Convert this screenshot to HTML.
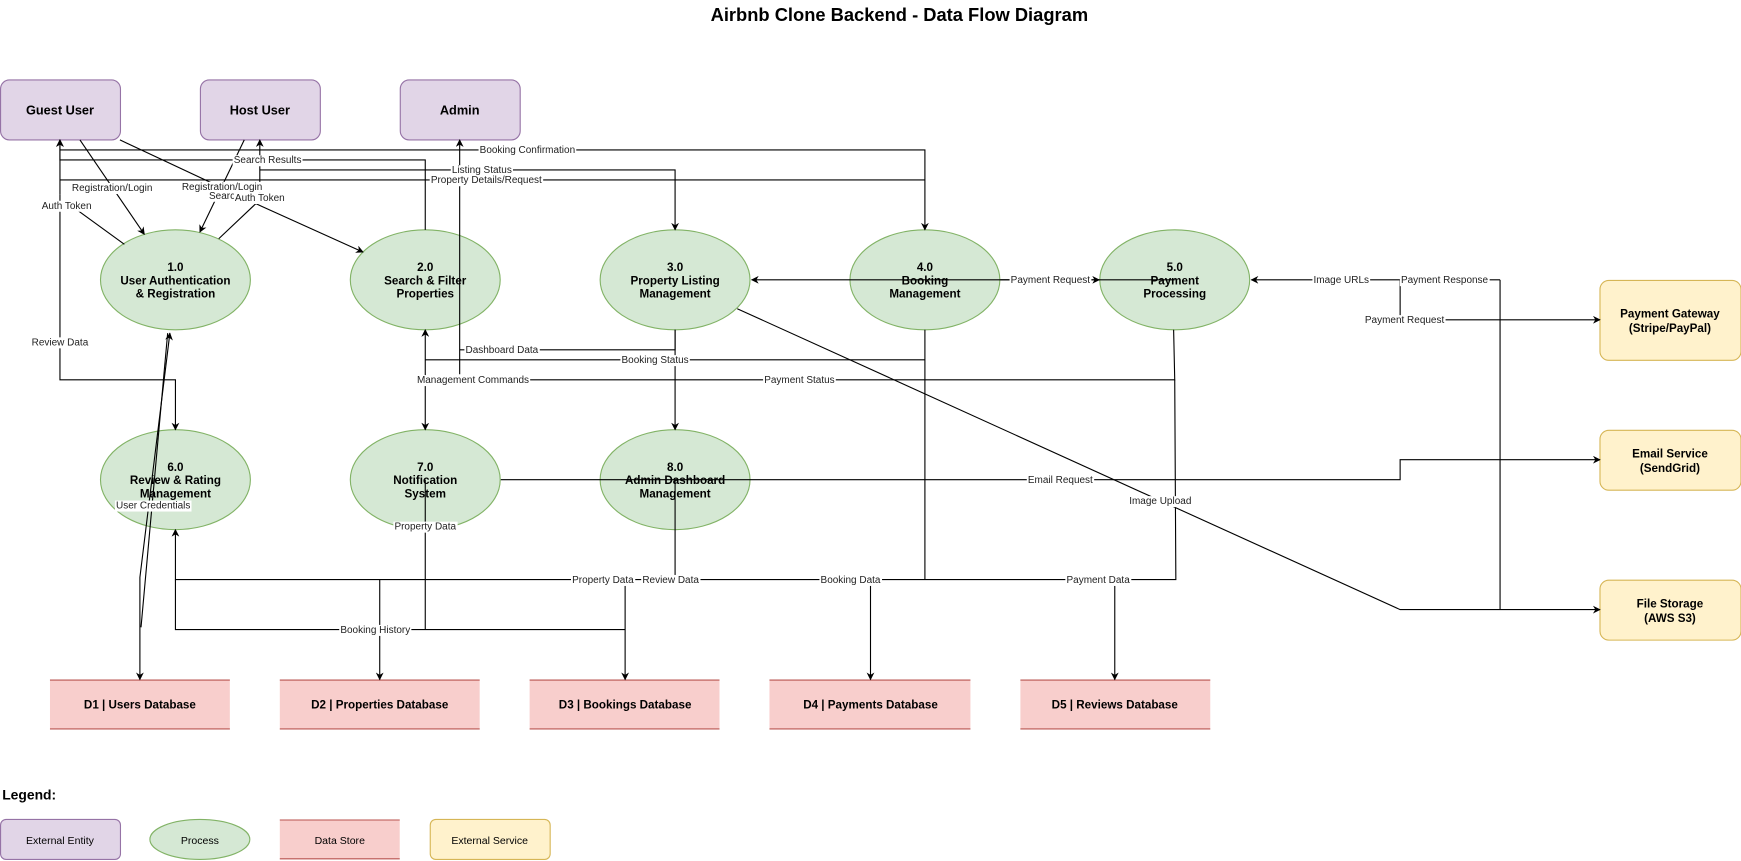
<!DOCTYPE html>
<html><head><meta charset="utf-8"><style>
html,body{margin:0;padding:0;background:#fff;}
svg{display:block;}
text{font-family:"Liberation Sans",Arial,sans-serif;}
.n{font-weight:bold;font-size:10.5px;text-anchor:middle;fill:#000;}
.l text{font-size:9px;text-anchor:middle;fill:#222;}
.e{fill:none;stroke:#000;stroke-width:1;}
</style></head><body>
<svg id="s" width="1741" height="861" viewBox="0 0 1568 775.4" xmlns="http://www.w3.org/2000/svg">
<defs><marker id="a" viewBox="0 0 10 10" refX="9" refY="5" markerWidth="7" markerHeight="7" orient="auto-start-reverse"><path d="M0,0 L10,5 L0,10 L3,5 z" fill="#000"/></marker></defs>
<text x="810" y="19" text-anchor="middle" font-weight="bold" font-size="16.5">Airbnb Clone Backend - Data Flow Diagram</text>

<g fill="#e1d5e7" stroke="#9673a6">
<rect x="0.5" y="72" width="108" height="54" rx="8"/>
<rect x="180.5" y="72" width="108" height="54" rx="8"/>
<rect x="360.5" y="72" width="108" height="54" rx="8"/>
<rect x="0.5" y="738" width="108" height="36" rx="5"/>
</g>
<g fill="#d5e8d4" stroke="#82b366">
<ellipse cx="158" cy="252" rx="67.5" ry="45"/>
<ellipse cx="383" cy="252" rx="67.5" ry="45"/>
<ellipse cx="608" cy="252" rx="67.5" ry="45"/>
<ellipse cx="833" cy="252" rx="67.5" ry="45"/>
<ellipse cx="1058" cy="252" rx="67.5" ry="45"/>
<ellipse cx="158" cy="432" rx="67.5" ry="45"/>
<ellipse cx="383" cy="432" rx="67.5" ry="45"/>
<ellipse cx="608" cy="432" rx="67.5" ry="45"/>
<ellipse cx="180" cy="756" rx="45" ry="18"/>
</g>
<g fill="#fff2cc" stroke="#d6b656">
<rect x="1441" y="252.5" width="127" height="72" rx="8"/>
<rect x="1441" y="387.5" width="127" height="54" rx="8"/>
<rect x="1441" y="522.5" width="127" height="54" rx="8"/>
<rect x="387.5" y="738" width="108" height="36" rx="5"/>
</g>
<g fill="#f8cecc">
<rect x="45" y="612" width="162" height="45"/>
<rect x="252" y="612" width="180" height="45"/>
<rect x="477" y="612" width="171" height="45"/>
<rect x="693" y="612" width="181" height="45"/>
<rect x="919" y="612" width="171" height="45"/>
<rect x="252" y="738" width="108" height="36"/>
</g>
<g stroke="#b85450" stroke-width="1">
<path d="M45,612.5H207M45,656.5H207M252,612.5H432M252,656.5H432M477,612.5H648M477,656.5H648M693,612.5H874M693,656.5H874M919,612.5H1090M919,656.5H1090M252,738.5H360M252,773.5H360"/>
</g>

<g class="e">
<path d="M72,126 L130,211" marker-end="url(#a)"/>
<path d="M220,126 L180,209" marker-end="url(#a)"/>
<path d="M112,220 L68,188 M54,175 V126" marker-end="url(#a)"/>
<path d="M197,215 L234,180 V126" marker-end="url(#a)"/>
<path d="M108,126 L236,186 L327,227" marker-end="url(#a)"/>
<path d="M383,207 V144 H54 V126" marker-end="url(#a)"/>
<path d="M234,153 H608 V207" marker-end="url(#a)"/>
<path d="M54,135 H833 V207" marker-end="url(#a)"/>
<path d="M54,162 H833"/>
<path d="M414,337 V126" marker-end="url(#a)"/>
<path d="M901,252 H990" marker-end="url(#a)"/>
<path d="M1351,252 H1127" marker-end="url(#a)"/>
<path d="M1058,252 H677" marker-end="url(#a)"/>
<path d="M1351,252 V549"/>
<path d="M1261,252 V288 H1441" marker-end="url(#a)"/>
<path d="M664,278 L1261,549 H1441" marker-end="url(#a)"/>
<path d="M608,297 V315 H414"/>
<path d="M383,324 H833"/>
<path d="M383,342 H1058 L1057,297"/>
<path d="M54,175 V342 H158 V387" marker-end="url(#a)"/>
<path d="M383,387 V297" marker-start="url(#a)" marker-end="url(#a)"/>
<path d="M608,297 V387" marker-end="url(#a)"/>
<path d="M451,432 H1261 V414 H1441" marker-end="url(#a)"/>
<path d="M126,612 V520 L153,300" marker-start="url(#a)" marker-end="url(#a)"/>
<path d="M127,565 L151,300"/>
<path d="M383,432 V567"/>
<path d="M1058,342 L1059,522 H158 V477" marker-end="url(#a)"/>
<path d="M608,432 V522 M833,297 V522"/>
<path d="M342,522 V612" marker-end="url(#a)"/>
<path d="M563,522 V612" marker-end="url(#a)"/>
<path d="M784,522 V612" marker-end="url(#a)"/>
<path d="M1004,522 V612" marker-end="url(#a)"/>
<path d="M158,522 V567 H563"/>
</g>

<g class="n">
<text x="54" y="103" font-size="11.5">Guest User</text>
<text x="234" y="103" font-size="11.5">Host User</text>
<text x="414" y="103" font-size="11.5">Admin</text>
<text x="158" y="244">1.0</text><text x="158" y="256">User Authentication</text><text x="158" y="268">&amp; Registration</text>
<text x="383" y="244">2.0</text><text x="383" y="256">Search &amp; Filter</text><text x="383" y="268">Properties</text>
<text x="608" y="244">3.0</text><text x="608" y="256">Property Listing</text><text x="608" y="268">Management</text>
<text x="833" y="244">4.0</text><text x="833" y="256">Booking</text><text x="833" y="268">Management</text>
<text x="1058" y="244">5.0</text><text x="1058" y="256">Payment</text><text x="1058" y="268">Processing</text>
<text x="158" y="424">6.0</text><text x="158" y="436">Review &amp; Rating</text><text x="158" y="448">Management</text>
<text x="383" y="424">7.0</text><text x="383" y="436">Notification</text><text x="383" y="448">System</text>
<text x="608" y="424">8.0</text><text x="608" y="436">Admin Dashboard</text><text x="608" y="448">Management</text>
<text x="1504" y="286">Payment Gateway</text><text x="1504" y="299">(Stripe/PayPal)</text>
<text x="1504" y="412">Email Service</text><text x="1504" y="425">(SendGrid)</text>
<text x="1504" y="547">File Storage</text><text x="1504" y="560">(AWS S3)</text>
<text x="126" y="638">D1 | Users Database</text>
<text x="342" y="638">D2 | Properties Database</text>
<text x="563" y="638">D3 | Bookings Database</text>
<text x="784" y="638">D4 | Payments Database</text>
<text x="1004" y="638">D5 | Reviews Database</text>
</g>
<text x="2" y="720" font-weight="bold" font-size="12.5">Legend:</text>
<g font-size="9.5" text-anchor="middle">
<text x="54" y="760">External Entity</text>
<text x="180" y="760">Process</text>
<text x="306" y="760">Data Store</text>
<text x="441" y="760">External Service</text>
</g>

<g class="l" id="labels">
<text x="101" y="172">Registration/Login</text>
<text x="200" y="171">Registration/Login</text>
<text x="200" y="179">Searc</text>
<text x="234" y="181">Auth Token</text>
<text x="60" y="188">Auth Token</text>
<text x="241" y="147">Search Results</text>
<text x="434" y="156">Listing Status</text>
<text x="475" y="138">Booking Confirmation</text>
<text x="438" y="165">Property Details/Request</text>
<text x="946" y="255">Payment Request</text>
<text x="1208" y="255">Image URLs</text>
<text x="1301" y="255">Payment Response</text>
<text x="1265" y="291">Payment Request</text>
<text x="452" y="318">Dashboard Data</text>
<text x="590" y="327">Booking Status</text>
<text x="426" y="345">Management Commands</text>
<text x="720" y="345">Payment Status</text>
<text x="54" y="311">Review Data</text>
<text x="955" y="435">Email Request</text>
<text x="1045" y="454">Image Upload</text>
<text x="138" y="458">User Credentials</text>
<text x="383" y="477">Property Data</text>
<text x="543" y="525">Property Data</text>
<text x="604" y="525">Review Data</text>
<text x="766" y="525">Booking Data</text>
<text x="989" y="525">Payment Data</text>
<text x="338" y="570">Booking History</text>
</g>
</svg>
<script>
var g=document.getElementById('labels');
Array.prototype.slice.call(g.querySelectorAll('text')).forEach(function(t){
 var b=t.getBBox();
 var r=document.createElementNS('http://www.w3.org/2000/svg','rect');
 r.setAttribute('x',b.x-1);r.setAttribute('y',b.y);
 r.setAttribute('width',b.width+2);r.setAttribute('height',b.height);
 r.setAttribute('fill','#fff');
 g.insertBefore(r,t);
});
</script>
</body></html>
